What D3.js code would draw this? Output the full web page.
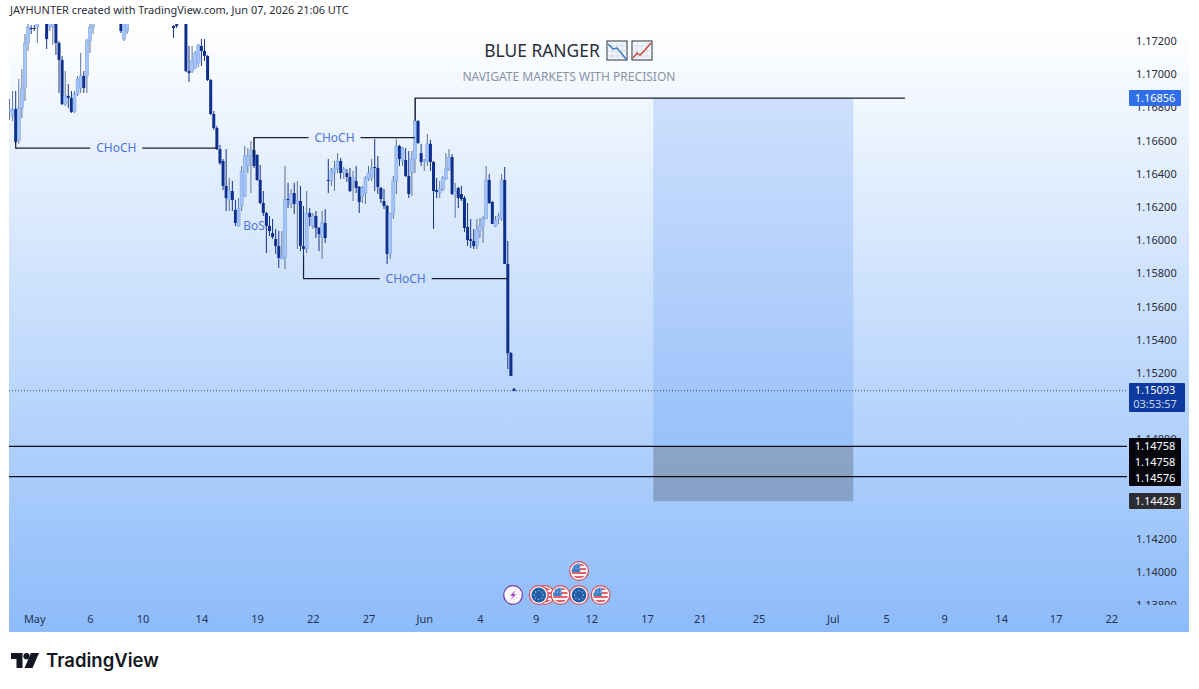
<!DOCTYPE html>
<html>
<head>
<meta charset="utf-8">
<script src="https://cdn.jsdelivr.net/npm/d3@7/dist/d3.min.js"></script>
<style>
  html, body { margin: 0; padding: 0; background: #fff; }
  svg { display: block; }
  text { font-family: "Noto Sans", "Open Sans", sans-serif; }
</style>
</head>
<body>
<svg id="chart" width="1199" height="689"></svg>
<script>
// EURUSD-style 4H candles, one entry per bar
const opens = [
1.16778,1.16748,1.16790,1.16604,1.16796,1.16917,1.17188,1.17278,1.17278,1.17284,1.17320,1.17369,1.17333,1.17284,1.17284,1.17351,1.17188,1.17086,1.16820,1.16869,
1.16857,1.16778,1.16881,1.16917,1.16989,1.16989,1.17200,1.17284,1.17333,1.17381,1.17429,1.17405,1.17459,1.17423,1.17387,1.17417,1.17333,1.17212,1.17260,1.17333,
1.17375,1.17423,1.17399,1.17453,1.17495,1.17465,1.17429,1.17471,1.17441,1.17405,1.17381,1.17351,1.17387,1.17290,1.17302,1.17320,1.17369,1.17320,1.17019,1.17019,
1.17037,1.17067,1.17170,1.17140,1.17110,1.16965,1.16760,1.16676,1.16549,1.16477,1.16327,1.16242,1.16296,1.16182,1.16086,1.16206,1.16266,1.16447,1.16507,1.16543,
1.16513,1.16363,1.16224,1.16164,1.16086,1.16043,1.16007,1.15965,1.15887,1.15893,1.16248,1.16218,1.16284,1.16218,1.16236,1.15965,1.15947,1.16164,1.16086,1.16146,
1.16074,1.16019,1.16104,1.16363,1.16357,1.16405,1.16429,1.16477,1.16411,1.16405,1.16381,1.16357,1.16357,1.16321,1.16266,1.16284,1.16369,1.16375,1.16441,1.16435,
1.16315,1.16236,1.16206,1.15917,1.16158,1.16357,1.16568,1.16477,1.16483,1.16387,1.16405,1.16489,1.16718,1.16525,1.16477,1.16477,1.16580,1.16471,1.16302,1.16284,
1.16308,1.16369,1.16429,1.16501,1.16278,1.16315,1.16278,1.16254,1.16080,1.16007,1.15995,1.15971,1.16055,1.16086,1.16128,1.16363,1.16230,1.16086,1.16128,1.16128,
1.16363,1.15857,1.15320,1.15105];
const closes = [
1.16790,1.16790,1.16592,1.16796,1.16917,1.17188,1.17284,1.17272,1.17272,1.17320,1.17369,1.17333,1.17212,1.17333,1.17333,1.17188,1.17086,1.16820,1.16869,1.16857,
1.16772,1.16881,1.16971,1.16989,1.16917,1.17200,1.17284,1.17333,1.17381,1.17429,1.17405,1.17459,1.17423,1.17387,1.17417,1.17369,1.17260,1.17333,1.17333,1.17375,
1.17423,1.17399,1.17453,1.17495,1.17465,1.17429,1.17471,1.17441,1.17405,1.17381,1.17351,1.17387,1.17339,1.17278,1.17290,1.17369,1.17357,1.17019,1.17007,1.17080,
1.17128,1.17176,1.17140,1.17110,1.16965,1.16760,1.16676,1.16549,1.16465,1.16327,1.16254,1.16296,1.16242,1.16104,1.16194,1.16417,1.16507,1.16507,1.16543,1.16447,
1.16363,1.16224,1.16164,1.16086,1.16055,1.16019,1.15965,1.15893,1.15899,1.16248,1.16242,1.16278,1.16218,1.16236,1.15965,1.15947,1.16164,1.16140,1.16146,1.16074,
1.16037,1.16104,1.16013,1.16357,1.16417,1.16435,1.16477,1.16405,1.16429,1.16381,1.16296,1.16375,1.16315,1.16230,1.16315,1.16375,1.16405,1.16435,1.16435,1.16321,
1.16248,1.16206,1.15917,1.16158,1.16357,1.16568,1.16489,1.16555,1.16387,1.16278,1.16489,1.16718,1.16586,1.16471,1.16483,1.16580,1.16471,1.16296,1.16290,1.16308,
1.16375,1.16429,1.16501,1.16278,1.16296,1.16254,1.16248,1.16074,1.16001,1.15995,1.15965,1.16062,1.16086,1.16128,1.16363,1.16224,1.16098,1.16122,1.16146,1.16363,
1.15857,1.15320,1.15182,1.15093];
const highs = [
1.16851,1.16899,1.16899,1.16971,1.17031,1.17242,1.17320,1.17296,1.17296,1.17333,1.17393,1.17393,1.17351,1.17351,1.17351,1.17369,1.17200,1.17110,1.17019,1.16941,
1.16899,1.16899,1.16989,1.17128,1.17019,1.17212,1.17320,1.17369,1.17411,1.17447,1.17453,1.17483,1.17477,1.17441,1.17435,1.17429,1.17369,1.17369,1.17369,1.17399,
1.17441,1.17447,1.17477,1.17513,1.17519,1.17483,1.17489,1.17495,1.17459,1.17423,1.17393,1.17405,1.17399,1.17296,1.17320,1.17393,1.17387,1.17351,1.17170,1.17170,
1.17140,1.17182,1.17212,1.17212,1.17116,1.16971,1.16778,1.16688,1.16574,1.16489,1.16549,1.16375,1.16357,1.16242,1.16254,1.16447,1.16568,1.16555,1.16598,1.16616,
1.16519,1.16453,1.16296,1.16170,1.16146,1.16128,1.16068,1.16055,1.16055,1.16447,1.16345,1.16308,1.16345,1.16357,1.16327,1.16206,1.16296,1.16194,1.16164,1.16176,
1.16080,1.16176,1.16188,1.16489,1.16435,1.16477,1.16525,1.16495,1.16441,1.16429,1.16435,1.16417,1.16447,1.16327,1.16327,1.16387,1.16447,1.16489,1.16610,1.16507,
1.16321,1.16308,1.16212,1.16164,1.16387,1.16610,1.16574,1.16562,1.16555,1.16537,1.16537,1.16857,1.16724,1.16580,1.16489,1.16640,1.16604,1.16477,1.16375,1.16357,
1.16387,1.16525,1.16549,1.16519,1.16345,1.16321,1.16327,1.16266,1.16224,1.16128,1.16068,1.16128,1.16134,1.16146,1.16447,1.16399,1.16236,1.16146,1.16164,1.16399,
1.16441,1.15995,1.15326,1.15110];
const lows = [
1.16724,1.16718,1.16580,1.16580,1.16736,1.16839,1.17140,1.17242,1.17260,1.17188,1.17308,1.17314,1.17152,1.17260,1.17176,1.17116,1.16887,1.16814,1.16808,1.16796,
1.16766,1.16766,1.16869,1.16887,1.16887,1.16887,1.17128,1.17242,1.17320,1.17369,1.17381,1.17393,1.17399,1.17363,1.17369,1.17345,1.17248,1.17200,1.17242,1.17320,
1.17357,1.17381,1.17387,1.17429,1.17447,1.17411,1.17417,1.17423,1.17387,1.17357,1.17333,1.17327,1.17321,1.17218,1.17278,1.17308,1.17314,1.17013,1.16953,1.17007,
1.17031,1.17043,1.17049,1.17080,1.16959,1.16754,1.16664,1.16543,1.16453,1.16302,1.16176,1.16176,1.16176,1.16086,1.16080,1.16176,1.16260,1.16405,1.16284,1.16435,
1.16357,1.16218,1.16146,1.15923,1.16025,1.16007,1.15917,1.15833,1.15887,1.15827,1.16194,1.16194,1.16158,1.15947,1.15935,1.15845,1.15923,1.16086,1.16068,1.16013,
1.15935,1.15887,1.15983,1.16284,1.16327,1.16296,1.16405,1.16369,1.16369,1.16351,1.16290,1.16236,1.16284,1.16164,1.16224,1.16218,1.16357,1.16357,1.16296,1.16278,
1.16224,1.16188,1.15857,1.15887,1.16128,1.16278,1.16447,1.16447,1.16381,1.16254,1.16266,1.16405,1.16580,1.16447,1.16417,1.16447,1.16417,1.16068,1.16254,1.16254,
1.16296,1.16363,1.16417,1.16272,1.16134,1.16194,1.16236,1.16049,1.15965,1.15953,1.15947,1.15947,1.16013,1.15983,1.16128,1.16218,1.16098,1.16080,1.16098,1.16116,
1.15857,1.15224,1.15182,1.15090];

// Axis ticks
const priceTicks = [1.172,1.170,1.168,1.166,1.164,1.162,1.160,1.158,1.156,1.154,1.152,1.148,1.142,1.140,1.138];
const dateTickBars = [8,26,43,62,80,98,116,134,152,170,188,206,223,242,266,283.2,302,320.4,338,356];
const dateTickLabels = ["May","6","10","14","19","22","27","Jun","4","9","12","17","21","25","Jul","5","9","14","17","22"];

// Market structure annotations: [start bar, end bar], level price, price at the start hook
const structureBars = [[2,67],[79,131],[95,161]];
const structurePrices = [1.16555,1.16618,1.15769];
const structureHooks = [1.16598,1.16507,1.15905];
const structureLabel = "CHoCH";

// Horizontal levels
const targetLevel = 1.16856;
const lastPrice = 1.15093;
const entryLevel = 1.14758;
const lowerLevel = 1.14576;
const stopLevel = 1.14428;
const positionBars = [208, 272.6];
const targetLineBars = [131.1, 289.3];

// Economic calendar markers: bar, row, kind
const eventBars = [162.7, 173, 171, 178, 184, 191, 184];
const eventRows = [0, 0, 0, 0, 0, 0, 1];
const eventKinds = ["bolt", "us", "eu", "us", "eu", "us", "us"];

const W = 1199, H = 689;
const plot = { left: 9, right: 1127, top: 24, bottom: 605, edge: 1189, axisBottom: 632 };

const x = d3.scaleLinear().domain([0, 163]).range([9.5, 514]);
const y = d3.scaleLinear().domain([1.172, 1.138]).range([41, 605.4]);

const svg = d3.select("#chart");
const defs = svg.append("defs");

const bg = defs.append("linearGradient").attr("id", "panelFill")
  .attr("x1", 0).attr("x2", 0).attr("y1", 0).attr("y2", 1);
bg.append("stop").attr("offset", 0).attr("stop-color", "#ffffff");
bg.append("stop").attr("offset", 1).attr("stop-color", "#8dbbfa");

defs.append("clipPath").attr("id", "plotClip").append("rect")
  .attr("x", plot.left).attr("y", plot.top)
  .attr("width", plot.right - plot.left).attr("height", plot.bottom - plot.top);
defs.append("clipPath").attr("id", "priceClip").append("rect")
  .attr("x", plot.right).attr("y", plot.top)
  .attr("width", plot.edge - plot.right).attr("height", plot.bottom - plot.top);

svg.append("rect").attr("width", W).attr("height", H).attr("fill", "#fff");
svg.append("rect")
  .attr("x", plot.left).attr("y", plot.top)
  .attr("width", plot.edge - plot.left).attr("height", plot.axisBottom - plot.top)
  .attr("fill", "url(#panelFill)");

// Header credit line
svg.append("text").attr("x", 10).attr("y", 14)
  .attr("font-size", 10.95).attr("fill", "#2a2e39")
  .text("JAYHUNTER created with TradingView.com, Jun 07, 2026 21:06 UTC");

const chart = svg.append("g").attr("clip-path", "url(#plotClip)");

// Long position box: profit zone above the entry, risk zone below
const boxX0 = x(positionBars[0]), boxX1 = x(positionBars[1]);
chart.append("rect").attr("x", boxX0).attr("width", boxX1 - boxX0)
  .attr("y", y(targetLevel)).attr("height", y(entryLevel) - y(targetLevel))
  .attr("fill", "#3f86f5").attr("fill-opacity", 0.2);
chart.append("rect").attr("x", boxX0).attr("width", boxX1 - boxX0)
  .attr("y", y(entryLevel)).attr("height", y(stopLevel) - y(entryLevel))
  .attr("fill", "#5f6f85").attr("fill-opacity", 0.45);

// Full-width levels and the last-price dotted line
chart.selectAll("line.level").data([entryLevel, lowerLevel]).join("line")
  .attr("class", "level")
  .attr("x1", plot.left).attr("x2", plot.right)
  .attr("y1", d => y(d)).attr("y2", d => y(d))
  .attr("stroke", "#0b0e14").attr("stroke-width", 1.3);
chart.append("line")
  .attr("x1", plot.left).attr("x2", plot.right)
  .attr("y1", y(lastPrice)).attr("y2", y(lastPrice))
  .attr("stroke", "#33496e").attr("stroke-width", 1).attr("stroke-dasharray", "1 2");

// Candles
const bars = opens.map((o, i) => ({ i, o, c: closes[i], h: highs[i], l: lows[i] }));
const BODY = 3;
const candle = chart.append("g").selectAll("g").data(bars).join("g");
candle.append("line")
  .attr("x1", d => x(d.i)).attr("x2", d => x(d.i))
  .attr("y1", d => y(d.h)).attr("y2", d => y(d.l))
  .attr("stroke", d => d.c >= d.o ? "#5d7396" : "#16338a")
  .attr("stroke-width", 1);
candle.append("rect")
  .attr("x", d => x(d.i) - BODY / 2).attr("width", BODY)
  .attr("y", d => y(Math.max(d.o, d.c)))
  .attr("height", d => Math.max(1, Math.abs(y(d.o) - y(d.c))))
  .attr("fill", d => d.c >= d.o ? "#a6c5f6" : "#0f2f8c")
  .attr("stroke", d => d.c >= d.o ? "#7ba4ea" : "none")
  .attr("stroke-width", 0.6);

// Structure break lines, with the label sitting in a gap of the line
const labelGap = 26;
structureBars.forEach(([a, b], k) => {
  const yy = y(structurePrices[k]);
  const x0 = x(a), x1 = x(b);
  const mid = (x0 + x1) / 2;
  const g = chart.append("g").attr("fill", "none").attr("stroke", "#1a2030").attr("stroke-width", 1.2);
  g.append("path").attr("d", d3.line()([[x0, y(structureHooks[k])], [x0, yy], [mid - labelGap, yy]]));
  g.append("path").attr("d", d3.line()([[mid + labelGap, yy], [x1, yy]]));
  chart.append("text").attr("x", mid).attr("y", yy + 4.3)
    .attr("text-anchor", "middle").attr("font-size", 12).attr("fill", "#4f74d9")
    .text(structureLabel);
});
chart.append("text").attr("x", x(75.5)).attr("y", y(1.16086) + 4.5)
  .attr("font-size", 12).attr("fill", "#4f74d9").text("BoS");

// Target level line, hooked down from the swing high
chart.append("path")
  .attr("d", d3.line()([[x(targetLineBars[0]), y(1.1672)], [x(targetLineBars[0]), y(targetLevel)], [x(targetLineBars[1]), y(targetLevel)]]))
  .attr("fill", "none").attr("stroke", "#1a2030").attr("stroke-width", 1.2);

// Title block
svg.append("text").attr("x", 542).attr("y", 57).attr("text-anchor", "middle")
  .attr("font-size", 17.4).attr("fill", "#2a2e39").text("BLUE RANGER");
svg.append("text").attr("x", 569).attr("y", 81).attr("text-anchor", "middle")
  .attr("font-size", 12.05).attr("fill", "#8a93a5").text("NAVIGATE MARKETS WITH PRECISION");

// Falling and rising chart glyphs after the title
const glyphs = [
  { x: 607, stroke: "#3a78c8", pts: [[1, 3], [6, 8], [10, 7], [15, 13], [19, 18]] },
  { x: 632, stroke: "#d0463c", pts: [[1, 17], [5, 12], [8, 14], [13, 9], [19, 2]] }
];
glyphs.forEach(gl => {
  const g = svg.append("g").attr("transform", `translate(${gl.x},41)`);
  g.append("rect").attr("width", 20).attr("height", 19).attr("fill", "#f3f6fb")
    .attr("stroke", "#2a2e39").attr("stroke-width", 1);
  [5, 10, 15].forEach(v => {
    g.append("line").attr("x1", v).attr("x2", v).attr("y1", 0).attr("y2", 19).attr("stroke", "#c2d3ea").attr("stroke-width", 0.6);
    g.append("line").attr("y1", v).attr("y2", v).attr("x1", 0).attr("x2", 20).attr("stroke", "#c2d3ea").attr("stroke-width", 0.6);
  });
  g.append("path").attr("d", d3.line()(gl.pts)).attr("fill", "none").attr("stroke", gl.stroke).attr("stroke-width", 1.5);
});

// Price axis
const priceAxis = d3.axisRight(y).tickValues(priceTicks).tickFormat(d3.format(".5f")).tickSize(0).tickPadding(0);
const priceG = svg.append("g").attr("clip-path", "url(#priceClip)")
  .append("g").attr("transform", "translate(1136,0)").call(priceAxis);
priceG.select(".domain").remove();
priceG.selectAll("text").attr("font-size", 11).attr("fill", "#2a2e39")
  .style("font-family", '"Noto Sans", sans-serif');

// Date axis, positioned by bar number
const dateAxis = d3.axisBottom(x).tickValues(dateTickBars)
  .tickFormat(d => dateTickLabels[dateTickBars.indexOf(d)]).tickSize(0).tickPadding(0);
const dateG = svg.append("g").attr("transform", "translate(0,615)").call(dateAxis);
dateG.select(".domain").remove();
dateG.selectAll("text").attr("font-size", 11).attr("fill", "#1f3358")
  .style("font-family", '"Noto Sans", sans-serif');

// Price tags on the axis
function priceTag(x0, y0, w, h, fill) {
  svg.append("rect").attr("x", x0).attr("y", y0).attr("width", w).attr("height", h).attr("rx", 1).attr("fill", fill);
}
function tagText(cy, text, fill) {
  svg.append("text").attr("x", 1155).attr("y", cy + 4).attr("text-anchor", "middle")
    .attr("font-size", 11).attr("fill", fill).text(text);
}
priceTag(1129, 90, 52, 16, "#2f6ee8");
tagText(y(targetLevel), d3.format(".5f")(targetLevel), "#ffffff");
priceTag(1129, 383, 56, 29, "#0c3a9e");
tagText(y(lastPrice) - 0.5, d3.format(".5f")(lastPrice), "#ffffff");
tagText(403.5, "03:53:57", "#c9d6f2");
priceTag(1129, 438, 52, 48, "#05070c");
tagText(y(entryLevel) - 0.5, d3.format(".5f")(entryLevel), "#ffffff");
tagText(462, d3.format(".5f")(entryLevel), "#ffffff");
tagText(y(lowerLevel) + 1, d3.format(".5f")(lowerLevel), "#ffffff");
priceTag(1129, 493, 52, 16, "#2b2d33");
tagText(y(stopLevel), d3.format(".5f")(stopLevel), "#ffffff");

// Economic calendar markers along the bottom of the pane
const rowY = [595, 571];
const R = 10;
function usFlag(g) {
  const clip = "flag" + g.attr("data-id");
  defs.append("clipPath").attr("id", clip).append("circle").attr("r", R - 2.6);
  const f = g.append("g").attr("clip-path", `url(#${clip})`);
  f.append("rect").attr("x", -R).attr("y", -R).attr("width", 2 * R).attr("height", 2 * R).attr("fill", "#f4f4f6");
  [-6, -2, 2, 6].forEach(v => f.append("rect").attr("x", -R).attr("y", v - 1).attr("width", 2 * R).attr("height", 2).attr("fill", "#e0636b"));
  f.append("rect").attr("x", -R).attr("y", -R).attr("width", R + 1).attr("height", R + 1).attr("fill", "#3c7fc6");
  [-6, -3, 0].forEach(a => [-6, -3].forEach(b => f.append("circle").attr("cx", a).attr("cy", b).attr("r", 0.6).attr("fill", "#fff")));
}
function euFlag(g) {
  g.append("circle").attr("r", R - 2.6).attr("fill", "#1f5ea6");
  d3.range(8).forEach(k => {
    const a = k / 8 * 2 * Math.PI;
    g.append("circle").attr("cx", 4.4 * Math.cos(a)).attr("cy", 4.4 * Math.sin(a)).attr("r", 0.7).attr("fill", "#bcd4ef");
  });
}
function bolt(g) {
  g.append("circle").attr("r", R - 2.6).attr("fill", "#fbf3fc");
  g.append("path").attr("d", d3.line()([[2.6, -5], [-2.8, 0.8], [0.2, 0.8], [-2.6, 5], [3, -0.8], [0, -0.8]]) + "Z").attr("fill", "#9b2fc4");
}
eventBars.forEach((bar, k) => {
  const g = svg.append("g").attr("data-id", k)
    .attr("transform", `translate(${x(bar)},${rowY[eventRows[k]]})`);
  const isBolt = eventKinds[k] === "bolt";
  g.append("circle").attr("r", R).attr("fill", isBolt ? "#7b3fa8" : "#dd4e5c");
  g.append("circle").attr("r", R - 1.3).attr("fill", "#ffffff");
  if (isBolt) bolt(g); else if (eventKinds[k] === "us") usFlag(g); else euFlag(g);
});

// Footer wordmark
const logo = svg.append("g").attr("transform", "translate(11,653)").attr("fill", "#131722");
logo.append("path").attr("d", "M0 0H11.5V15H5.5V6H0Z");
logo.append("circle").attr("cx", 15.5).attr("cy", 3.2).attr("r", 3.1);
logo.append("path").attr("d", "M20 0H28L21.5 15H13.5Z");
svg.append("text").attr("x", 46).attr("y", 667)
  .attr("font-size", 18.5).attr("font-weight", 600).attr("fill", "#131722")
  .style("font-family", 'Inter, "Noto Sans", sans-serif').text("TradingView");
</script>
</body>
</html>
